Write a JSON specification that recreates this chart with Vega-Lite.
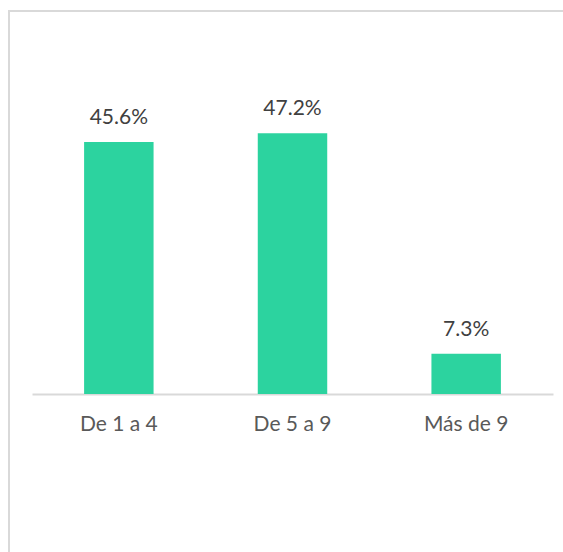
{
  "$schema": "https://vega.github.io/schema/vega-lite/v6.json",
  "autosize": "none",
  "width": 600,
  "height": 600,
  "padding": {"left": 9, "top": 11, "right": 0, "bottom": 0},
  "background": "white",
  "config": {
    "view": {"stroke": "#d9d9d9", "strokeWidth": 2},
    "font": "Lato"
  },
  "data": {
    "values": [
      {"grupo": "De 1 a 4", "valor": 0.456},
      {"grupo": "De 5 a 9", "valor": 0.472},
      {"grupo": "Más de 9", "valor": 0.073}
    ]
  },
  "encoding": {
    "x": {
      "field": "grupo",
      "type": "nominal",
      "sort": null,
      "scale": {"range": [23, 544], "paddingInner": 0.6, "paddingOuter": 0.3},
      "axis": {
        "title": null,
        "orient": "bottom",
        "offset": -217,
        "labelAngle": 0,
        "ticks": false,
        "domainColor": "#d9d9d9",
        "domainWidth": 2,
        "labelColor": "#595959",
        "labelFont": "Lato",
        "labelFontSize": 21,
        "labelPadding": 19
      }
    },
    "y": {
      "field": "valor",
      "type": "quantitative",
      "scale": {"domain": [0, 0.693], "range": [383, 0], "nice": false},
      "axis": null
    }
  },
  "layer": [
    {"mark": {"type": "bar", "color": "#2cd39f"}},
    {
      "mark": {"type": "text", "baseline": "alphabetic", "dy": -18, "fontSize": 21, "color": "#404040", "font": "Lato"},
      "encoding": {"text": {"field": "valor", "type": "quantitative", "format": ".1%"}}
    }
  ]
}
